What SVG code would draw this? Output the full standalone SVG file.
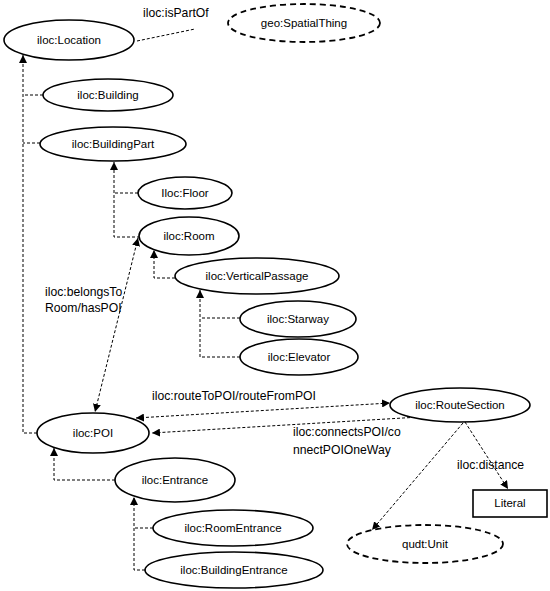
<svg xmlns="http://www.w3.org/2000/svg" width="550" height="591" viewBox="0 0 550 591">
<style>
text{font-family:"Liberation Sans",Arial,sans-serif;font-size:11.5px;fill:#000}
.l{font-size:12.2px}
.n{text-anchor:middle;dominant-baseline:central}
.e{fill:#fff;stroke:#000;stroke-width:1.6}
.d{fill:#fff;stroke:#000;stroke-width:1.8;stroke-dasharray:6 4}
.c{fill:none;stroke:#000;stroke-width:1;stroke-dasharray:3 2}
</style>
<defs>
<marker id="a" viewBox="0 0 10 10" refX="10" refY="5" markerWidth="8" markerHeight="8" markerUnits="userSpaceOnUse" orient="auto-start-reverse">
<path d="M0,0 L10,5 L0,10 z" fill="#000"/>
</marker>
</defs>
<g id="connectors">
<path class="c" d="M137,41 L195,29"/>
<path class="c" d="M37,433 H23 V55" marker-end="url(#a)"/>
<path class="c" d="M43,95 H23"/>
<path class="c" d="M40,143 H23"/>
<path class="c" d="M140,237 H114 V162" marker-end="url(#a)"/>
<path class="c" d="M138,193 H114"/>
<path class="c" d="M175,278 H154 V250" marker-end="url(#a)"/>
<path class="c" d="M240,357 H200 V290" marker-end="url(#a)"/>
<path class="c" d="M240,318 H200"/>
<path class="c" d="M138,238 L95,412" marker-start="url(#a)" marker-end="url(#a)"/>
<path class="c" d="M115,480 H54 V448" marker-end="url(#a)"/>
<path class="c" d="M145,570 H134 V497" marker-end="url(#a)"/>
<path class="c" d="M153,528 H134"/>
<path class="c" d="M136,418 L390,403" marker-start="url(#a)" marker-end="url(#a)"/>
<path class="c" d="M420,417 L152,433" marker-end="url(#a)"/>
<path class="c" d="M465,422 L508,489" marker-end="url(#a)"/>
<path class="c" d="M463,423 L372,530" marker-end="url(#a)"/>
<text class="l" x="143" y="17">iloc:isPartOf</text>
<text class="l" x="45" y="296">iloc:belongsTo</text>
<text class="l" x="45" y="312">Room/hasPOI</text>
<text class="l" x="152" y="400">iloc:routeToPOI/routeFromPOI</text>
<text class="l" x="293" y="436">iloc:connectsPOI/co</text>
<text class="l" x="293" y="454">nnectPOIOneWay</text>
<text class="l" x="457" y="469">iloc:distance</text>
</g>
<g id="location"><ellipse class="e" cx="69" cy="40" rx="65" ry="20"/><text class="n" x="69" y="40">iloc:Location</text></g>
<g id="spatialthing"><ellipse class="d" cx="304" cy="23" rx="76" ry="19"/><text class="n" x="304" y="23">geo:SpatialThing</text></g>
<g id="building"><ellipse class="e" cx="108" cy="95" rx="65" ry="16"/><text class="n" x="108" y="95">iloc:Building</text></g>
<g id="buildingpart"><ellipse class="e" cx="113" cy="144" rx="73" ry="17"/><text class="n" x="113" y="144">iloc:BuildingPart</text></g>
<g id="floor"><ellipse class="e" cx="185" cy="193" rx="47" ry="16"/><text class="n" x="185" y="193">Iloc:Floor</text></g>
<g id="room"><ellipse class="e" cx="189" cy="236" rx="50" ry="19"/><text class="n" x="189" y="236">iloc:Room</text></g>
<g id="verticalpassage"><ellipse class="e" cx="257" cy="276" rx="82" ry="18"/><text class="n" x="257" y="276">iloc:VerticalPassage</text></g>
<g id="starway"><ellipse class="e" cx="298" cy="319" rx="58" ry="18"/><text class="n" x="298" y="319">iloc:Starway</text></g>
<g id="elevator"><ellipse class="e" cx="299" cy="357" rx="59" ry="18"/><text class="n" x="299" y="357">iloc:Elevator</text></g>
<g id="poi"><ellipse class="e" cx="93" cy="433" rx="56" ry="20"/><text class="n" x="93" y="433">iloc:POI</text></g>
<g id="routesection"><ellipse class="e" cx="460" cy="405" rx="70" ry="17"/><text class="n" x="460" y="405">iloc:RouteSection</text></g>
<g id="literal"><rect x="473" y="490" width="74" height="27" fill="#fff" stroke="#000" stroke-width="1.6"/><text class="n" x="510" y="503">Literal</text></g>
<g id="unit"><ellipse class="d" cx="425" cy="544" rx="78" ry="19"/><text class="n" x="425" y="544">qudt:Unit</text></g>
<g id="entrance"><ellipse class="e" cx="175" cy="480" rx="60" ry="22"/><text class="n" x="175" y="480">iloc:Entrance</text></g>
<g id="roomentrance"><ellipse class="e" cx="233" cy="528" rx="80" ry="18"/><text class="n" x="233" y="528">iloc:RoomEntrance</text></g>
<g id="buildingentrance"><ellipse class="e" cx="234" cy="570" rx="89" ry="18"/><text class="n" x="234" y="570">iloc:BuildingEntrance</text></g>
</svg>
